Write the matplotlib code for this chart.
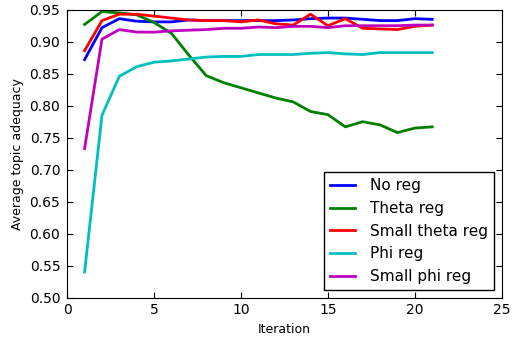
import numpy as np
import matplotlib
matplotlib.use('Agg')
import matplotlib.pyplot as plt
import matplotlib.ticker as mticker

iterations = list(range(1, 22))
no_reg = [0.872, 0.922, 0.936, 0.932, 0.931, 0.931, 0.934, 0.933, 0.933, 0.933, 0.933,
          0.933, 0.934, 0.936, 0.937, 0.937, 0.935, 0.933, 0.933, 0.936, 0.935]
theta_reg = [0.927, 0.947, 0.945, 0.942, 0.930, 0.913, 0.879, 0.847, 0.836, 0.828, 0.820,
             0.812, 0.806, 0.791, 0.786, 0.767, 0.775, 0.770, 0.758, 0.765, 0.767]
small_theta_reg = [0.886, 0.933, 0.943, 0.943, 0.940, 0.937, 0.934, 0.933, 0.933, 0.931, 0.934,
                   0.928, 0.926, 0.943, 0.925, 0.936, 0.921, 0.920, 0.919, 0.924, 0.926]
phi_reg = [0.540, 0.785, 0.846, 0.861, 0.868, 0.870, 0.873, 0.876, 0.877, 0.877, 0.880,
           0.880, 0.880, 0.882, 0.883, 0.881, 0.880, 0.883, 0.883, 0.883, 0.883]
small_phi_reg = [0.733, 0.904, 0.919, 0.915, 0.915, 0.917, 0.918, 0.919, 0.921, 0.921, 0.923,
                 0.922, 0.924, 0.924, 0.922, 0.925, 0.925, 0.925, 0.925, 0.926, 0.926]

fig = plt.figure(figsize=(5.21, 3.4), dpi=100)
ax = fig.add_axes([0.129, 0.1244, 0.834, 0.847])
ax.plot(iterations, no_reg, color='b', lw=2, label='No reg')
ax.plot(iterations, theta_reg, color='g', lw=2, label='Theta reg')
ax.plot(iterations, small_theta_reg, color='r', lw=2, label='Small theta reg')
ax.plot(iterations, phi_reg, color='c', lw=2, label='Phi reg')
ax.plot(iterations, small_phi_reg, color='m', lw=2, label='Small phi reg')

ax.set_xlim(0, 25)
ax.set_ylim(0.50, 0.95)
ax.yaxis.set_major_locator(mticker.MultipleLocator(0.05))
ax.yaxis.set_major_formatter(mticker.FormatStrFormatter('%.2f'))
ax.xaxis.set_major_locator(mticker.MultipleLocator(5))
ax.tick_params(direction='in', top=True, right=True, length=4, labelsize=10)
ax.tick_params(axis='y', pad=5)
ax.tick_params(axis='x', pad=4)
ax.set_xlabel('Iteration', fontsize=9)
ax.set_ylabel('Average topic adequacy', fontsize=9)
leg = ax.legend(loc='lower right', fancybox=False, fontsize=11, framealpha=1,
                borderpad=0.4, handlelength=1.6, handletextpad=1.0, labelspacing=0.5)
leg.get_frame().set_edgecolor('black')

plt.savefig('out.png', dpi=100)
plt.close()
